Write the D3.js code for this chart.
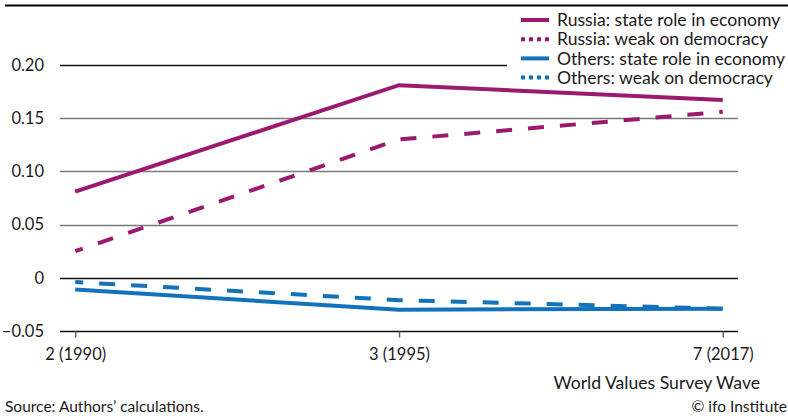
<!DOCTYPE html>
<html>
<head>
<meta charset="utf-8">
<script src="https://cdn.jsdelivr.net/npm/d3@7/dist/d3.min.js"></script>
<style>
  html, body { margin: 0; padding: 0; background: #fff; }
  svg { display: block; }
  text { font-family: "Lato", "Liberation Sans", sans-serif; fill: #1a1a1a; }
</style>
</head>
<body>
<svg id="chart" width="788" height="416"></svg>
<script>
const waves = ["2 (1990)", "3 (1995)", "7 (2017)"];
const russiaState = [0.081, 0.181, 0.167];
const russiaDemocracy = [0.025, 0.130, 0.156];
const othersState = [-0.011, -0.030, -0.029];
const othersDemocracy = [-0.004, -0.021, -0.029];
const yTicks = [-0.05, 0, 0.05, 0.10, 0.15, 0.20];
const yTickLabels = ["\u22120.05", "0", "0.05", "0.10", "0.15", "0.20"];
const seriesNames = ["Russia: state role in economy", "Russia: weak on democracy", "Others: state role in economy", "Others: weak on democracy"];

const PURPLE = "#9a1a6f";
const BLUE = "#1273bb";

const series = [
  { name: seriesNames[0], values: russiaState, color: PURPLE, dashed: false },
  { name: seriesNames[1], values: russiaDemocracy, color: PURPLE, dashed: true },
  { name: seriesNames[2], values: othersState, color: BLUE, dashed: false },
  { name: seriesNames[3], values: othersDemocracy, color: BLUE, dashed: true }
];

const svg = d3.select("#chart");
const plotLeft = 60, plotRight = 738, plotTop = 65, plotBottom = 331;
const fs = 16.5;      // tick labels
const fsText = 17.6;  // legend and axis title
const fsNote = 15.5;  // source / copyright

const x = d3.scalePoint().domain(waves).range([plotLeft, plotRight]).padding(0.047);
const y = d3.scaleLinear().domain([-0.05, 0.20]).range([plotBottom, plotTop]);

// top rule
svg.append("line").attr("x1", 5).attr("x2", 788).attr("y1", 5.5).attr("y2", 5.5)
  .attr("stroke", "#000").attr("stroke-width", 2);

// gridlines
const grid = svg.append("g");
yTicks.forEach((t, i) => {
  const dark = (t === 0 || t === -0.05 || t === 0.20);
  grid.append("line")
    .attr("x1", plotLeft).attr("x2", plotRight)
    .attr("y1", Math.round(y(t)) + 0.5).attr("y2", Math.round(y(t)) + 0.5)
    .attr("stroke", dark ? "#111" : "#7a7a7a")
    .attr("stroke-width", dark ? 1.3 : 1.4);
  grid.append("text")
    .attr("x", 44).attr("y", y(t))
    .attr("dy", "0.35em")
    .attr("text-anchor", "end")
    .attr("font-size", fs)
    .text(yTickLabels[i]);
});

// x axis ticks
const xAxis = d3.axisBottom(x).tickSize(6).tickSizeOuter(0).tickFormat(d => d);
const xg = svg.append("g").attr("transform", `translate(0,${Math.round(plotBottom) + 0.5})`).call(xAxis);
xg.select(".domain").remove();
xg.selectAll(".tick line").attr("stroke", "#666").attr("stroke-width", 1.5);
xg.selectAll(".tick text")
  .attr("font-family", "Lato, sans-serif")
  .attr("font-size", fs).attr("fill", "#1a1a1a").attr("dy", "1.2em");

// lines
const lineGen = d3.line().x((d, i) => x(waves[i])).y(d => y(d));
series.forEach(s => {
  svg.append("path")
    .datum(s.values)
    .attr("d", lineGen)
    .attr("fill", "none")
    .attr("stroke", s.color)
    .attr("stroke-width", 4)
    .attr("stroke-dasharray", s.dashed ? "16 16" : null)
    .attr("stroke-dashoffset", s.dashed ? 8 : null);
});

// legend
const lg = svg.append("g");
lg.append("rect").attr("x", 507).attr("y", 8).attr("width", 281).attr("height", 78).attr("fill", "#fff");
series.forEach((s, i) => {
  const yy = 20 + i * 19.2;
  lg.append("line").attr("x1", 521).attr("x2", 549).attr("y1", yy).attr("y2", yy)
    .attr("stroke", s.color).attr("stroke-width", 4)
    .attr("stroke-dasharray", s.dashed ? "4 4" : null);
  lg.append("text").attr("x", 557).attr("y", yy).attr("dy", "0.35em")
    .attr("font-size", fsText).text(s.name);
});

// axis title & notes
svg.append("text").attr("x", 760).attr("y", 383).attr("dy", "0.35em")
  .attr("text-anchor", "end").attr("font-size", fsText).text("World Values Survey Wave");
svg.append("text").attr("x", 5).attr("y", 407).attr("dy", "0.35em")
  .attr("font-size", fsNote).text("Source: Authors\u2019 calculations.");
svg.append("text").attr("x", 787).attr("y", 407).attr("dy", "0.35em")
  .attr("text-anchor", "end").attr("font-size", fsNote).text("\u00a9 ifo Institute");
</script>
</body>
</html>
